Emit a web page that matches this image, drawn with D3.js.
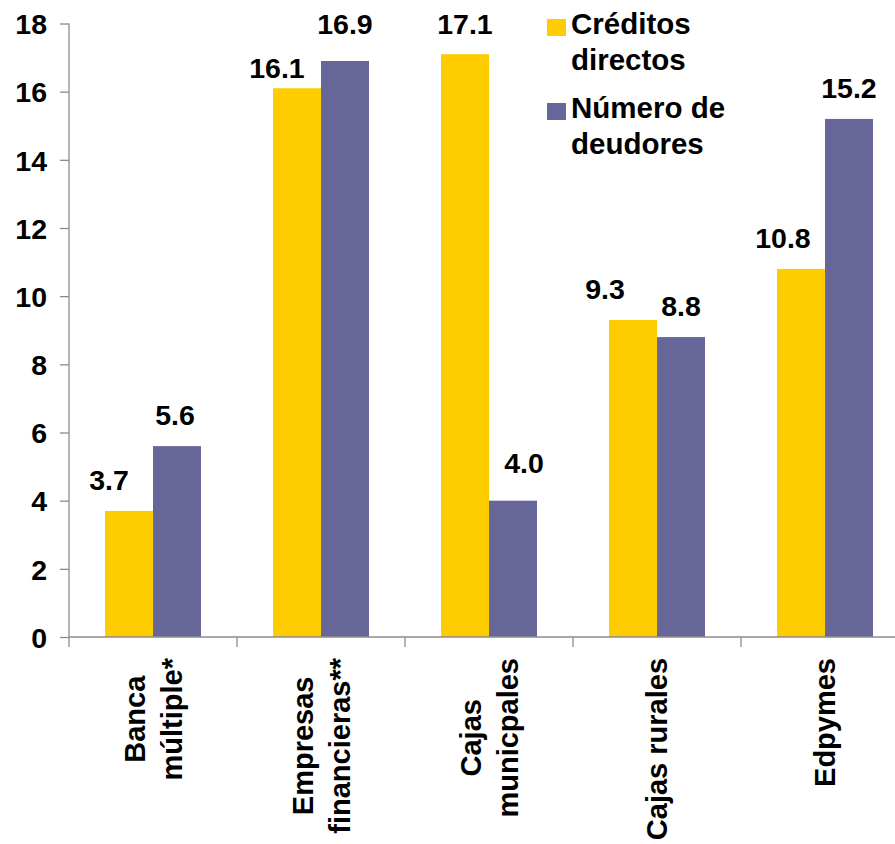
<!DOCTYPE html>
<html>
<head>
<meta charset="utf-8">
<script src="https://cdn.jsdelivr.net/npm/d3@7"></script>
<style>
  html, body { margin: 0; padding: 0; background: #ffffff; }
  svg { display: block; font-family: "Liberation Sans", Arial, sans-serif; font-weight: bold; }
</style>
</head>
<body>
<svg id="chart" width="895" height="844"></svg>
<script>
// ---- Data ----
const categories = [
  ["Banca", "múltiple*"],
  ["Empresas", "financieras**"],
  ["Cajas", "municpales"],
  ["Cajas rurales"],
  ["Edpymes"]
];
const seriesNames = ["Créditos directos", "Número de deudores"];
const legendLines = [["Créditos", "directos"], ["Número de", "deudores"]];
const creditosDirectos = [3.7, 16.1, 17.1, 9.3, 10.8];
const numeroDeudores = [5.6, 16.9, 4.0, 8.8, 15.2];
const yTicks = [0, 2, 4, 6, 8, 10, 12, 14, 16, 18];
// label nudges (dx, dy) to mimic the original manual placement
const nudgeCreditos = [[-20, 0], [-20, 11], [0, 1], [-28, 0], [-18, 0]];
const nudgeDeudores = [[-2, 0], [0, -6], [11, -7], [0, 0], [0, 0]];

const colors = ["#FFCC00", "#666699"];
const axisColor = "#8c8c8c";

const svg = d3.select("#chart");
const catKeys = categories.map((c, i) => "c" + i);

const x = d3.scaleBand().domain(catKeys).range([69, 909])
  .paddingInner(3 / 7).paddingOuter(1.5 / 7);
const xs = d3.scaleBand().domain([0, 1]).range([0, x.bandwidth()]).padding(0);
const y = d3.scaleLinear().domain([0, 18]).range([637, 23.5]);

const series = [creditosDirectos, numeroDeudores];
const nudges = [nudgeCreditos, nudgeDeudores];

// ---- Bars ----
series.forEach((vals, s) => {
  svg.append("g").selectAll("rect").data(vals).join("rect")
    .attr("x", (d, i) => x(catKeys[i]) + xs(s))
    .attr("y", d => y(d))
    .attr("width", xs.bandwidth())
    .attr("height", d => y(0) - y(d))
    .attr("fill", colors[s]);
});

// ---- Y axis ----
const yAxis = svg.append("g").attr("transform", "translate(69,0)")
  .call(d3.axisLeft(y).tickValues(yTicks).tickSize(9).tickPadding(13).tickFormat(d3.format("d")));
yAxis.select(".domain").attr("stroke", axisColor).attr("stroke-width", 1.3)
  .attr("d", "M0," + y(18) + "V" + (y(0) + 10));
yAxis.selectAll(".tick line").attr("stroke", axisColor).attr("stroke-width", 1.3);
yAxis.selectAll(".tick text").attr("fill", "#000").attr("font-size", 28.5)
  .attr("font-weight", "bold").attr("font-family", "Liberation Sans, Arial, sans-serif")
  .attr("dy", "0.36em");

// ---- X axis (baseline with ticks between categories) ----
const xg = svg.append("g");
xg.append("line").attr("x1", 69).attr("x2", 909).attr("y1", y(0)).attr("y2", y(0))
  .attr("stroke", axisColor).attr("stroke-width", 1.3);
const boundaries = catKeys.map(k => x(k) - x.step() * x.paddingOuter()).concat([909]);
xg.selectAll("line.tk").data(boundaries.slice(1)).join("line")
  .attr("class", "tk")
  .attr("x1", d => d).attr("x2", d => d)
  .attr("y1", y(0)).attr("y2", y(0) + 10)
  .attr("stroke", axisColor).attr("stroke-width", 1.3);

// ---- Category labels (rotated) ----
const catTop = 658;
const lineGap = 37;
categories.forEach((lines, i) => {
  const cx = x(catKeys[i]) + x.bandwidth() / 2;
  const g = svg.append("g");
  const texts = lines.map((ln, j) => g.append("text").text(ln)
    .attr("font-size", 29).attr("font-weight", "bold").attr("fill", "#000")
    .attr("text-anchor", "middle"));
  const maxW = d3.max(texts, t => t.node().getComputedTextLength());
  const cy = catTop + maxW / 2;
  texts.forEach((t, j) => {
    const bx = cx + (j - (lines.length - 1) / 2) * lineGap + 10;
    t.attr("transform", "translate(" + bx + "," + cy + ") rotate(-90)");
  });
});

// ---- Value labels ----
series.forEach((vals, s) => {
  svg.append("g").selectAll("text").data(vals).join("text")
    .attr("x", (d, i) => x(catKeys[i]) + xs(s) + xs.bandwidth() / 2 + nudges[s][i][0])
    .attr("y", (d, i) => y(d) - 21 + nudges[s][i][1])
    .attr("text-anchor", "middle")
    .attr("font-size", 28.5).attr("font-weight", "bold").attr("fill", "#000")
    .text(d => d3.format(".1f")(d));
});

// ---- Legend ----
const legendY = [19, 103];
legendLines.forEach((lines, s) => {
  const g = svg.append("g");
  g.append("rect").attr("x", 547).attr("y", legendY[s]).attr("width", 19).attr("height", 17)
    .attr("fill", colors[s]);
  lines.forEach((ln, j) => {
    g.append("text").attr("x", 571).attr("y", legendY[s] + 15 + j * 36)
      .attr("font-size", 29.5).attr("font-weight", "bold").attr("fill", "#000")
      .text(ln);
  });
});
</script>
</body>
</html>
